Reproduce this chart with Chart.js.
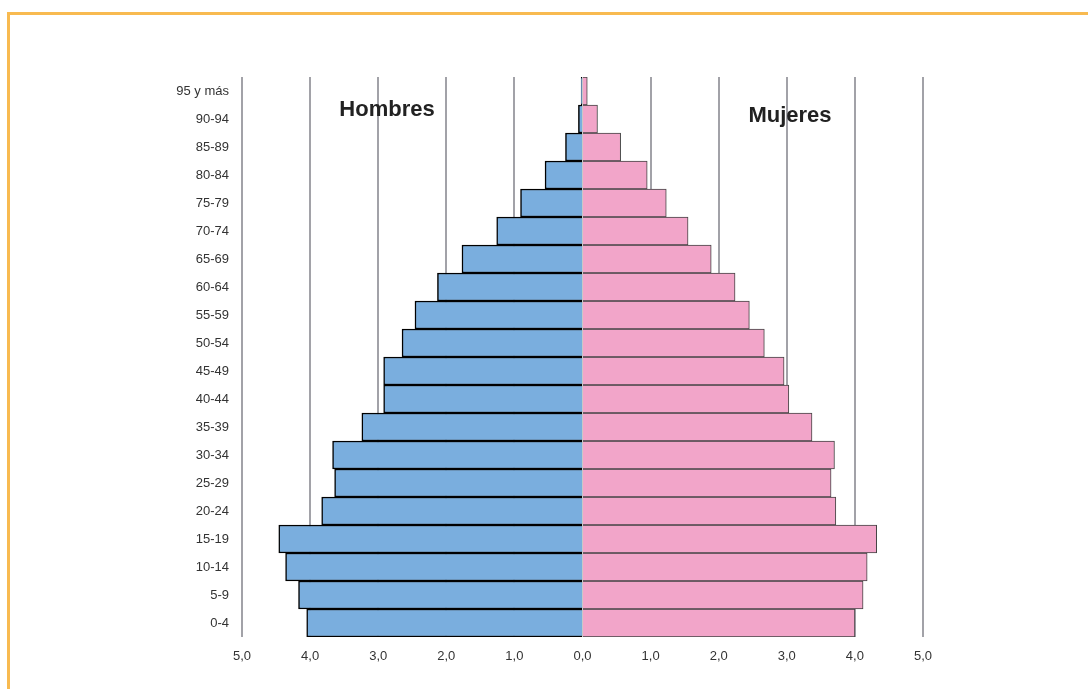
<!DOCTYPE html>
<html>
<head>
<meta charset="utf-8">
<script src="https://cdn.jsdelivr.net/npm/chart.js@4"></script>
<style>
  html, body { margin: 0; padding: 0; background: #fff; overflow: hidden; }
  #wrap { position: relative; width: 1088px; height: 689px; }
  #frame { position: absolute; left: 7px; top: 12px; width: 1100px; height: 700px;
           border: 3px solid #f8ba50; box-sizing: border-box; }
  canvas { position: absolute; left: 0; top: 0; }
</style>
</head>
<body>
<div id="wrap">
  <div id="frame"></div>
  <canvas id="pyramid" width="1088" height="689"></canvas>
</div>
<script>
// Age groups, bottom to top
const ageGroups = ['0-4','5-9','10-14','15-19','20-24','25-29','30-34','35-39','40-44','45-49',
                   '50-54','55-59','60-64','65-69','70-74','75-79','80-84','85-89','90-94','95 y más'];
// percent of population
const hombres = [4.05, 4.17, 4.36, 4.46, 3.83, 3.64, 3.67, 3.24, 2.92, 2.92,
                 2.65, 2.46, 2.13, 1.77, 1.26, 0.91, 0.55, 0.25, 0.06, 0.02];
const mujeres = [4.00, 4.12, 4.18, 4.32, 3.72, 3.65, 3.70, 3.37, 3.03, 2.96,
                 2.67, 2.45, 2.24, 1.89, 1.55, 1.23, 0.95, 0.56, 0.22, 0.07];
const xTicks = [-5, -4, -3, -2, -1, 0, 1, 2, 3, 4, 5];

const fontFam = '"Liberation Sans", Arial, sans-serif';

// side titles
const sideTitles = {
    id: 'sideTitles',
    afterDraw(chart) {
        const c = chart.ctx;
        c.save();
        c.font = 'bold 22px ' + fontFam;
        c.fillStyle = '#222';
        c.textAlign = 'center';
        c.textBaseline = 'middle';
        c.fillText('Hombres', 387, 110);
        c.fillText('Mujeres', 790, 116);
        c.restore();
    }
};

const ctx = document.getElementById('pyramid').getContext('2d');
const pyramid = new Chart(ctx, {
    type: 'bar',
    data: {
        labels: ageGroups,
        datasets: [{
            label: 'Hombres',
            data: hombres.map(v => -v),
            backgroundColor: '#7aaede',
            borderColor: '#000',
            borderWidth: 1.5,
            barPercentage: 1,
            categoryPercentage: 1
        }, {
            label: 'Mujeres',
            data: mujeres,
            backgroundColor: '#f2a5c9',
            borderColor: '#444',
            borderWidth: 1,
            barPercentage: 1,
            categoryPercentage: 1
        }]
    },
    options: {
        indexAxis: 'y',
        responsive: false,
        animation: false,
        layout: { padding: { left: 0, right: 165, top: 77, bottom: 0 } },
        plugins: { legend: { display: false }, tooltip: { enabled: false } },
        scales: {
            x: {
                stacked: true,
                min: -5, max: 5,
                afterBuildTicks: axis => { axis.ticks = xTicks.map(v => ({ value: v })); },
                afterFit: axis => { axis.height = 52; },
                grid: {
                    drawTicks: false,
                    color: c => c.tick && c.tick.value === 0 ? '#c8c8c8' : '#a2a2a8',
                    lineWidth: c => c.tick && c.tick.value === 0 ? 1 : 2
                },
                border: { display: false },
                ticks: {
                    padding: 12,
                    color: '#333',
                    font: { family: fontFam, size: 13 },
                    callback: v => Math.abs(v).toFixed(1).replace('.', ',')
                }
            },
            y: {
                stacked: true,
                reverse: true,
                afterFit: axis => { axis.width = 242; },
                grid: { display: false, drawTicks: false },
                border: { display: false },
                ticks: {
                    padding: 13,
                    color: '#333',
                    font: { family: fontFam, size: 13 }
                }
            }
        }
    },
    plugins: [sideTitles]
});
</script>
</body>
</html>
